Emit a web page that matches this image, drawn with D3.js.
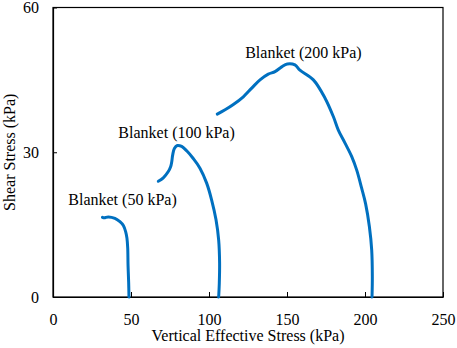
<!DOCTYPE html>
<html>
<head>
<meta charset="utf-8">
<script src="https://cdn.jsdelivr.net/npm/d3@7"></script>
<style>
html,body{margin:0;padding:0;background:#fff;}
svg{display:block;font-family:"Liberation Serif","Times New Roman",serif;}
</style>
</head>
<body>
<svg id="chart" width="457" height="348"></svg>
<script>
// Data: [vertical effective stress (kPa), shear stress (kPa)]
const series50 = [[31.7,16.5],[32.9,16.4],[35.4,16.6],[39.7,16.3],[42.9,15.6],[45.1,14.8],[46.6,13.5],[47.4,12.2],[47.9,10.1],[48.1,6.6],[48.5,3.0],[48.7,0]];
const series100 = [[67.5,24.0],[70.7,24.7],[73.9,26.0],[75.4,27.0],[76.1,28.0],[76.7,29.4],[77.8,30.8],[79.7,31.4],[82.5,31.2],[85.7,30.3],[89.9,28.7],[94.2,26.7],[98.5,23.6],[101.7,20.1],[104.5,16.0],[106.2,11.8],[106.8,7.0],[106.6,2.8],[106.2,0]];
const series200 = [[105.3,37.9],[110.3,38.8],[115.6,39.9],[122.0,41.5],[127.4,43.3],[132.7,45.0],[138.0,46.2],[142.3,46.7],[146.6,47.7],[150.2,48.3],[155.1,48.1],[158.3,47.0],[166.9,45.0],[174.4,41.2],[179.7,37.4],[182.9,34.6],[187.2,31.9],[191.5,29.1],[194.7,26.3],[197.9,22.5],[200.4,19.3],[202.8,14.6],[204.3,9.7],[204.7,4.2],[204.5,0]];
const seriesLabels = ["Blanket (50 kPa)","Blanket (100 kPa)","Blanket (200 kPa)"];
const labelAnchors = [[9.8,19.0],[41.9,33.0],[123.2,49.5]]; // data coords of label left/baseline
const xTicks = [0,50,100,150,200,250];
const yTicks = [0,30,60];
const xTitle = "Vertical Effective Stress (kPa)";
const yTitle = "Shear Stress (kPa)";

const W = 457, H = 348;
const m = {left:53, right:14, top:7.5, bottom:51};
const svg = d3.select("#chart");
const x = d3.scaleLinear().domain([0,250]).range([m.left, W-m.right]);
const y = d3.scaleLinear().domain([0,60]).range([H-m.bottom, m.top]);

// frame
svg.append("rect")
  .attr("x", x(0)).attr("y", y(60))
  .attr("width", x(250)-x(0)).attr("height", y(0)-y(60))
  .attr("fill","none").attr("stroke","#000").attr("stroke-width",1.2);

// x axis
const xAxis = svg.append("g").attr("transform",`translate(0,${y(0)})`)
  .call(d3.axisBottom(x).tickValues(xTicks).tickSizeInner(-5).tickSizeOuter(0).tickPadding(17));
xAxis.select(".domain").attr("stroke","#000").attr("stroke-width",1.2);
xAxis.selectAll("line").attr("stroke","#000");
xAxis.selectAll("text").attr("font-size",16).attr("font-family","Liberation Serif").attr("fill","#000");

// y axis
const yAxis = svg.append("g").attr("transform",`translate(${x(0)},0)`)
  .call(d3.axisLeft(y).tickValues(yTicks).tickSizeInner(-4).tickSizeOuter(0).tickPadding(14));
yAxis.select(".domain").attr("stroke","#000").attr("stroke-width",1.2);
yAxis.selectAll("line").attr("stroke","#000");
yAxis.selectAll("text").attr("font-size",16).attr("font-family","Liberation Serif").attr("fill","#000");

// titles
svg.append("text").attr("x",(x(0)+x(250))/2).attr("y",341)
  .attr("text-anchor","middle").attr("font-size",16).text(xTitle);
svg.append("text").attr("transform",`translate(15,${(y(0)+y(60))/2}) rotate(-90)`)
  .attr("text-anchor","middle").attr("font-size",16).text(yTitle);

// lines
const line = d3.line().x(d=>x(d[0])).y(d=>y(d[1])).curve(d3.curveCatmullRom.alpha(0.5));
[series50, series100, series200].forEach(s=>{
  svg.append("path").datum(s).attr("d",line)
    .attr("fill","none").attr("stroke","#0070C0").attr("stroke-width",3)
    .attr("stroke-linecap","round").attr("stroke-linejoin","round");
});

// labels
seriesLabels.forEach((t,i)=>{
  svg.append("text").attr("x",x(labelAnchors[i][0])).attr("y",y(labelAnchors[i][1]))
    .attr("font-size",16).attr("fill","#000").text(t);
});
</script>
</body>
</html>
